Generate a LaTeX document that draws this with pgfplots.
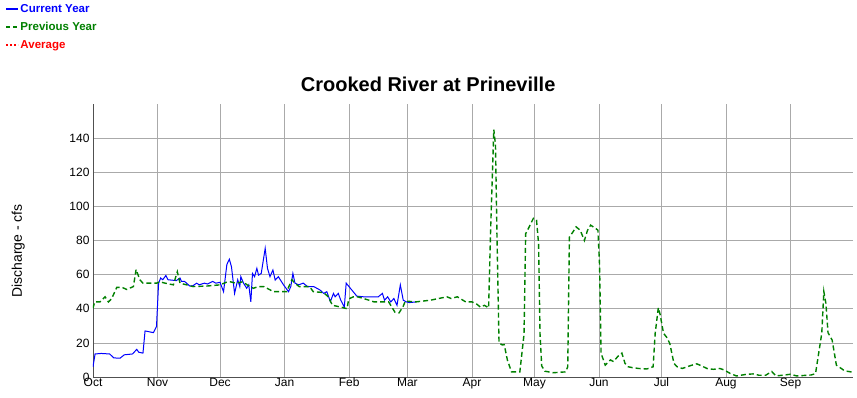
\documentclass[border=0pt]{standalone}
\usepackage{fontspec}
\setmainfont{Liberation Sans}
\usepackage{pgfplots}
\pgfplotsset{compat=1.18}
\definecolor{cur}{RGB}{0,0,255}
\definecolor{prev}{RGB}{0,128,0}
\definecolor{avg}{RGB}{255,0,0}
\definecolor{gridc}{RGB}{170,170,170}
\definecolor{axc}{RGB}{80,80,80}
\begin{document}
\begin{tikzpicture}
\useasboundingbox (-93pt,-21pt) rectangle (764pt,377pt);
\begin{axis}[
  at={(0pt,0pt)}, anchor=south west,
  scale only axis, width=760pt, height=273pt,
  xmin=0, xmax=365, ymin=0, ymax=160,
  axis x line*=bottom, axis y line*=left,
  axis line style={axc, line width=0.9pt},
  xtick={0,31,61,92,123,151,182,212,243,273,304,335},
  xticklabels={Oct,Nov,Dec,Jan,Feb,Mar,Apr,May,Jun,Jul,Aug,Sep},
  ytick={0,20,40,60,80,100,120,140},
  grid=major, grid style={gridc, line width=0.7pt},
  major tick length=0pt,
  tick label style={font=\fontsize{12}{14}\selectfont},
  /pgf/number format/assume math mode=true,
  xticklabel style={inner sep=1pt},
  title={Crooked River at Prineville},
  title style={font=\bfseries\fontsize{20}{24}\selectfont, at={(axis description cs:0.441,1)}, anchor=base, yshift=6pt},
  ylabel={Discharge - cfs},
  ylabel style={font=\fontsize{14}{16}\selectfont, at={(axis description cs:-0.0983,0.462)}, anchor=center},
  legend style={at={(axis description cs:0,1)}, anchor=north west, xshift=-88pt, yshift=101.5pt,
    draw=none, fill=none, inner sep=0pt, row sep=5.5pt,
    font=\bfseries\fontsize{11.5}{13}\selectfont, nodes={inner sep=1.5pt}},
  legend cell align=left,
  legend image code/.code={\draw[#1] (0pt,0pt) -- (12pt,0pt);},
]
\addlegendimage{cur, line width=1.8pt}
\addlegendentry{\textcolor{cur}{Current Year}}
\addlegendimage{prev, line width=1.8pt, dash pattern=on 4pt off 3pt}
\addlegendentry{\textcolor{prev}{Previous Year}}
\addlegendimage{avg, line width=1.8pt, dash pattern=on 2pt off 2pt}
\addlegendentry{\textcolor{avg}{Average}}

\addplot[cur, line width=1pt, forget plot] coordinates {
(0,6) (1,13.5) (4,13.8) (8,13.5) (10,11.2) (13,11) (15,13) (19,13.5) (21,16.2) (22,14.5) (24,14)
(25,27) (29,26) (30.5,29.6) (31.5,55) (32.5,58) (33.5,57) (35,59.5) (36,57) (40,56.5) (41.8,58)
(42.5,56) (44,56) (46.5,53.3) (48,53.5) (49.8,55) (51,54) (53.5,55) (55,54.5) (57.5,56) (59,55)
(61,55.5) (62.7,50) (64.3,66) (65.5,69) (66.5,64.6) (68,49) (69.5,57) (70.5,53) (71,58.8) (72.3,55)
(73.8,52) (74.8,54) (75.8,44) (76.6,60.7) (77.6,58.8) (78.7,63.7) (79.5,59.7) (80.8,60.7) (82.7,75.4)
(83.8,63.7) (85,58.8) (86.4,62.7) (87.5,56.8) (89,58.8) (91.5,54) (93.9,50) (95,53) (96,60.7) (97,55)
(98.7,54) (101,55) (103,53) (106,53) (109,51) (110.8,49) (112.3,50) (114,44.2) (115.5,49) (116.3,47)
(117.8,49) (119,45) (120.7,41) (121.6,55) (123.6,52) (126.7,47.4) (130,47) (137,47) (139,49) (140,45)
(141.5,47) (143,44) (144.5,46) (146,42) (147.6,54) (149,45) (150.5,44) (152,43.6) (155,44)
};
\addplot[prev, line width=1.4pt, dash pattern=on 5pt off 3pt, forget plot] coordinates {
(0,40.3) (0.8,44) (3.4,44) (5.8,47) (7.4,44) (9,46) (11.4,52.5) (14,52.5) (16.2,51.3) (19.4,53)
(20.7,63) (22.5,57) (24,55) (30.6,55) (32,55.8) (34.6,55) (38.6,54) (40.5,61.7) (41.8,55) (45,54)
(48,53) (54.6,53.3) (61,54) (64,55.5) (66,55.8) (68.5,55) (72,55.8) (74,54) (77,52) (79.5,53) (82,53)
(86.7,50) (93,50) (95.5,57) (97,55) (99,53) (104,53) (105.8,50) (110.7,49.5) (113,47) (115,42) (119,41)
(122,40) (122.8,45.7) (125,47) (127,47) (130,46) (135,44) (142,44) (145,38) (147,37.6) (149,41.5)
(150,44.5) (155,44) (162,45) (170,47) (172,46) (175,47) (179,44) (182,44) (184,43) (186,41) (188,42)
(190,40.5) (191,88) (192.5,145) (193.3,136) (194,84) (195,20) (196.5,18.8) (197.5,19) (199,10) (201,3)
(205,3) (207,25) (207.8,84) (209.5,88) (211.5,93) (213,92) (214,78) (214.7,25) (215.5,6.5) (217,3.4)
(221,2.5) (227,3) (228,6) (228.8,82) (230.5,85) (232,88) (234,86) (236,80) (237.5,86) (239,89)
(241.5,87) (242.5,86) (243.3,65) (244,13.9) (246,7) (248.5,10) (250,9) (252,12) (254,14) (255.5,8)
(257,6) (259,5.5) (262,5) (266,4.7) (269,6) (270,25.6) (271.5,40.6) (272.3,37) (274,25.6) (275.5,23.3)
(277,19.7) (279,8) (280.5,6) (283,5) (287,6.7) (290,7.7) (292.5,6.4) (295,4.9) (298,4.5) (301,5)
(303,4.2) (306,2.1) (309,0.6) (314,1.6) (317,1.8) (320,1) (323,1) (326,3.2) (328,0.6) (335,1.6)
(338,0.6) (345,1.2) (347,2) (350,25.6) (351,50) (352,43) (353,26) (355,21.6) (357,7) (361,3.6) (365,2.8)
};
\end{axis}
\end{tikzpicture}
\end{document}
